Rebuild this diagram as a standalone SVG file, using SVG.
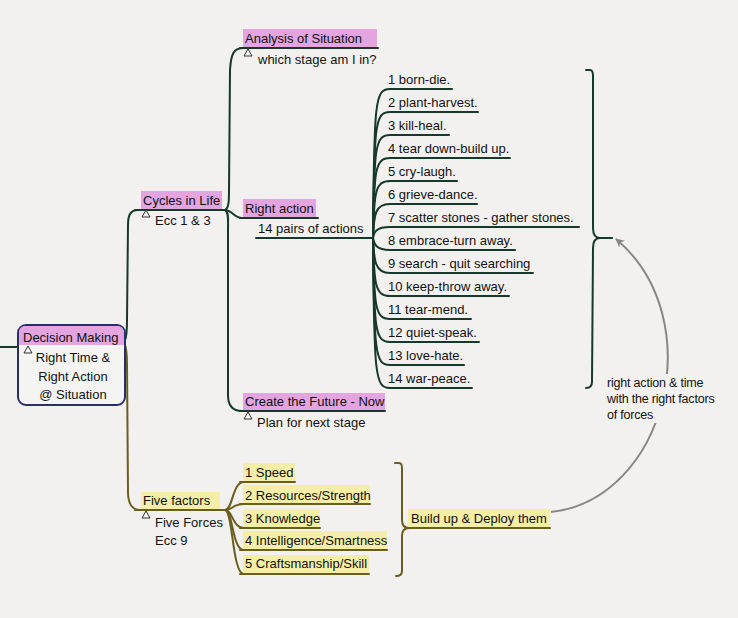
<svg xmlns="http://www.w3.org/2000/svg" width="738" height="618" viewBox="0 0 738 618">
<defs>
<style>
text{font-family:"Liberation Sans",Arial,sans-serif;font-size:13px;fill:#111}
.g{fill:none;stroke:#16392c;stroke-width:2;stroke-linecap:round}
.o{fill:none;stroke:#6b5d1c;stroke-width:2;stroke-linecap:round}
.pk{fill:#e3a4df}
.yl{fill:#f4eea6}
.tri{fill:#f4f4f2;stroke:#333;stroke-width:1}
.lbl{font-size:12.5px;letter-spacing:-0.2px}
</style>
<marker id="ah" viewBox="0 0 10 10" refX="9" refY="5" markerWidth="9" markerHeight="9" orient="auto" markerUnits="userSpaceOnUse">
<path d="M0,0 L10,5 L0,10 L3,5 Z" fill="#8a8683"/>
</marker>
</defs>
<rect width="738" height="618" fill="#f2f1ef"/>

<g id="connectors">
<path class="g" d="M0,347 L18,347"/>
<path class="g" d="M125,340 C127,336 127,330 127,320 L128,225 C128,214 131,210 138,210"/>
<path class="o" d="M125,345 C127,350 127,355 127,365 L128,492 C128,503 132,510 140,510"/>
<path class="g" d="M225,210 C229,208 229,200 229,190 L230,70 C231,53 234,48 244,48"/>
<path class="g" d="M225,210 C232,210 234,218 242,218"/>
<path class="g" d="M225,210 C229,212 228,220 228,230 L228,395 C228,405 232,411 242,411"/>
<path class="g" d="M373,238 C374,101 375,89 390,89 L452,89"/>
<path class="g" d="M373,238 C374,124 375,112 390,112 L478,112"/>
<path class="g" d="M373,238 C374,147 375,135 390,135 L449,135"/>
<path class="g" d="M373,238 C374,170 375,158 390,158 L510,158"/>
<path class="g" d="M373,238 C374,193 375,181 390,181 L457,181"/>
<path class="g" d="M373,238 C374,214 375,204 390,204 L477,204"/>
<path class="g" d="M373,238 C374,232 376,227 390,227 L579,227"/>
<path class="g" d="M373,238 C374,244 376,250 390,250 L515,250"/>
<path class="g" d="M373,238 C374,261 375,273 390,273 L533,273"/>
<path class="g" d="M373,238 C374,284 375,296 390,296 L509,296"/>
<path class="g" d="M373,238 C374,307 375,319 390,319 L471,319"/>
<path class="g" d="M373,238 C374,330 375,342 390,342 L479,342"/>
<path class="g" d="M373,238 C374,353 375,365 390,365 L464,365"/>
<path class="g" d="M373,238 C374,376 375,388 390,388 L472,388"/>
<path class="g" d="M586,70 L590,70 Q593,70 593,76 L593,228 Q593,238 600,238 L612,238"/>
<path class="g" d="M600,238 Q593,238 593,248 L592,382 Q592,388 586,388"/>
<path class="o" d="M225,510 C233,510 232,482 244,482"/>
<path class="o" d="M225,510 C233,510 232,504 244,504"/>
<path class="o" d="M225,510 C233,510 232,528 244,528"/>
<path class="o" d="M225,510 C233,510 232,550 244,550"/>
<path class="o" d="M225,510 C233,510 232,574 244,574"/>
<path class="o" d="M395,463 L399,463 Q402,463 402,468 L402,520 Q402,528 409,528"/>
<path class="o" d="M409,528 Q402,528 402,536 L402,571 Q402,576 396,576"/>
<path d="M551,512 C665,500 712,320 616,239" fill="none" stroke="#8a8683" stroke-width="2" marker-end="url(#ah)"/>
</g>

<g id="root">
<rect x="18" y="325" width="107" height="80" rx="8" fill="#f4f4f2" stroke="#2b2e6e" stroke-width="2"/>
<path class="pk" d="M26,326 L117,326 Q124,326 124,333 L124,345 L19,345 L19,333 Q19,326 26,326 Z"/>
<text x="23" y="342">Decision Making</text>
<path class="tri" d="M24,353 L28,346 L32,353 Z"/>
<text x="73" y="362" text-anchor="middle">Right Time &amp;</text>
<text x="73" y="381" text-anchor="middle">Right Action</text>
<text x="73" y="399" text-anchor="middle">@ Situation</text>
</g>

<g id="cycles">
<rect class="pk" x="141" y="191" width="81" height="18"/>
<path class="g" d="M135,210 L225,210"/>
<text x="143" y="205">Cycles in Life</text>
<path class="tri" d="M142,217 L146,210 L150,217 Z"/>
<text x="155" y="225">Ecc 1 &amp; 3</text>
</g>

<g id="analysis">
<rect class="pk" x="243" y="29" width="134" height="18"/>
<path class="g" d="M240,48 L378,48"/>
<text x="245" y="43">Analysis of Situation</text>
<path class="tri" d="M244,56 L248,49 L252,56 Z"/>
<text x="258" y="64">which stage am I in?</text>
</g>

<g id="right-action">
<rect class="pk" x="243" y="199" width="73" height="18"/>
<path class="g" d="M240,218 L318,218"/>
<text x="245" y="213">Right action</text>
</g>

<g id="pairs">
<path class="g" d="M256,238 L373,238"/>
<text x="258" y="233">14 pairs of actions</text>
</g>

<g id="items">
<text x="388" y="84">1 born-die.</text>
<text x="388" y="107">2 plant-harvest.</text>
<text x="388" y="130">3 kill-heal.</text>
<text x="388" y="153">4 tear down-build up.</text>
<text x="388" y="176">5 cry-laugh.</text>
<text x="388" y="199">6 grieve-dance.</text>
<text x="388" y="222">7 scatter stones - gather stones.</text>
<text x="388" y="245">8 embrace-turn away.</text>
<text x="388" y="268">9 search - quit searching</text>
<text x="388" y="291">10 keep-throw away.</text>
<text x="388" y="314">11 tear-mend.</text>
<text x="388" y="337">12 quiet-speak.</text>
<text x="388" y="360">13 love-hate.</text>
<text x="388" y="383">14 war-peace.</text>
</g>

<g id="create-future">
<rect class="pk" x="243" y="393" width="142" height="17"/>
<path class="g" d="M240,411 L385,411"/>
<text x="245" y="406">Create the Future - Now</text>
<path class="tri" d="M244,419 L248,412 L252,419 Z"/>
<text x="257" y="427">Plan for next stage</text>
</g>

<g id="five-factors">
<rect class="yl" x="141" y="492" width="79" height="17"/>
<path class="o" d="M135,510 L225,510"/>
<text x="143" y="505">Five factors</text>
<path class="tri" d="M142,518 L146,511 L150,518 Z"/>
<text x="155" y="527">Five Forces</text>
<text x="155" y="545">Ecc 9</text>
</g>

<g id="factor-items">
<rect class="yl" x="243" y="463" width="52" height="18"/>
<path class="o" d="M240,482 L295,482"/>
<text x="245" y="477">1 Speed</text>
<rect class="yl" x="243" y="485" width="127" height="18"/>
<path class="o" d="M240,504 L370,504"/>
<text x="245" y="500">2 Resources/Strength</text>
<rect class="yl" x="243" y="509" width="77" height="18"/>
<path class="o" d="M240,528 L320,528"/>
<text x="245" y="523">3 Knowledge</text>
<rect class="yl" x="243" y="531" width="144" height="18"/>
<path class="o" d="M240,550 L387,550"/>
<text x="245" y="545">4 Intelligence/Smartness</text>
<rect class="yl" x="243" y="555" width="126" height="18"/>
<path class="o" d="M240,574 L369,574"/>
<text x="245" y="568">5 Craftsmanship/Skill</text>
</g>

<g id="build-up">
<rect class="yl" x="408" y="509" width="142" height="18"/>
<path class="o" d="M405,528 L550,528"/>
<text x="411" y="523">Build up &amp; Deploy them</text>
</g>

<g id="arrow-label">
<rect x="604" y="374" width="118" height="49" fill="#f2f1ef"/>
<text class="lbl" x="607" y="387">right action &amp; time</text>
<text class="lbl" x="607" y="403">with the right factors</text>
<text class="lbl" x="607" y="419">of forces</text>
</g>
</svg>
